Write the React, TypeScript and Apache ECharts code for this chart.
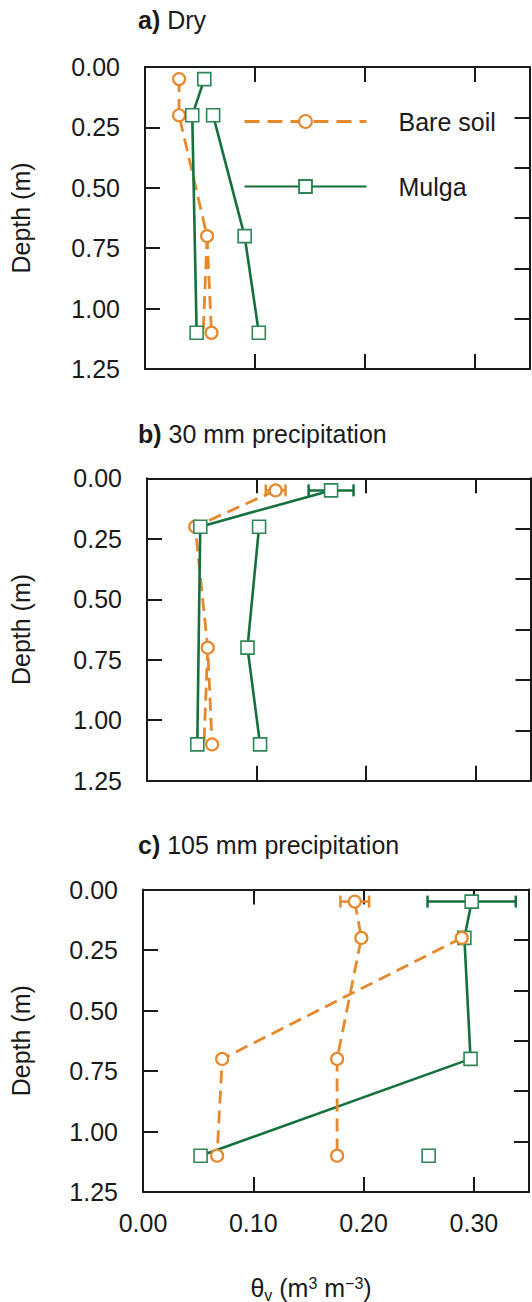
import React, { useEffect, useRef } from 'react';
import * as echarts from 'echarts';

// ---------- data ----------
const depths = [0.05, 0.2, 0.7, 1.1];
const xTickLabels = ['0.00', '0.10', '0.20', '0.30'];
const yTickLabels = ['0.00', '0.25', '0.50', '0.75', '1.00', '1.25'];
const panelLetters = ['a)', 'b)', 'c)'];
const panelNames = ['Dry', '30 mm precipitation', '105 mm precipitation'];

// Panel a (dry)
const bareA1 = [0.031, 0.031, 0.0565, 0.0605];
const bareA2 = [null, null, 0.0565, 0.053];
const mulgaA1 = [0.054, 0.043, null, 0.047];
const mulgaA2 = [null, 0.062, 0.0907, 0.1036];

// Panel b (30 mm)
const bareB1 = [0.1174, 0.044, 0.0554, 0.0594];
const bareB2 = [null, null, 0.0554, 0.052];
const mulgaB1 = [0.168, 0.0486, null, 0.0459];
const mulgaB2 = [null, 0.1023, 0.0917, 0.1032];
const bareBErr = 0.009;
const mulgaBErr = 0.0205;

// Panel c (105 mm)
const bareC1 = [0.192, 0.198, 0.176, 0.176];
const bareC2 = [null, 0.289, 0.0718, 0.0672];
const mulgaC1 = [0.298, 0.2914, 0.297, 0.0522];
const mulgaC2 = [null, null, null, 0.259];
const bareCErr = 0.013;
const mulgaCErr = 0.04;

// ---------- styling ----------
const FONT = '"Liberation Sans", Arial, Helvetica, sans-serif';
const ORANGE = '#E6882C';
const GREEN_LINE = '#15703E';
const GREEN_MARK = '#2E8555';
const INK = '#1a1a1a';

const grids = [
  { left: 145, top: 67, width: 384.5, height: 302 },
  { left: 147, top: 478.3, width: 383.5, height: 302.4 },
  { left: 143, top: 889.5, width: 386, height: 302.5 },
];

function pairs(vals: (number | null)[]) {
  const out: number[][] = [];
  depths.forEach((d, i) => {
    const v = vals[i];
    if (v !== null && v !== undefined) out.push([v, d]);
  });
  return out;
}

const axisLine = { show: true, onZero: false, lineStyle: { color: INK, width: 2 } };
const axisTick = { show: true, inside: true, length: 15, lineStyle: { color: INK, width: 2 } };

function bareSeries(p: number, vals: (number | null)[], showSym: boolean, z: number) {
  return {
    type: 'line',
    name: 'Bare soil',
    xAxisIndex: p * 2,
    yAxisIndex: p * 2,
    data: pairs(vals),
    showSymbol: showSym,
    symbol: 'circle',
    symbolSize: 12,
    z,
    lineStyle: { color: ORANGE, width: 2.8, type: [13, 7] },
    itemStyle: { color: '#fff', borderColor: ORANGE, borderWidth: 2.2 },
    emphasis: { disabled: true },
  };
}
function mulgaSeries(p: number, vals: (number | null)[], z: number) {
  return {
    type: 'line',
    name: 'Mulga',
    xAxisIndex: p * 2,
    yAxisIndex: p * 2,
    data: pairs(vals),
    showSymbol: true,
    symbol: 'rect',
    symbolSize: 13,
    z,
    lineStyle: { color: GREEN_LINE, width: 2.6, type: 'solid' },
    itemStyle: { color: '#fff', borderColor: GREEN_MARK, borderWidth: 1.6 },
    emphasis: { disabled: true },
  };
}
function errSeries(p: number, center: number, err: number, depth: number, color: string) {
  return {
    type: 'custom',
    name: 'err' + p + color,
    xAxisIndex: p * 2,
    yAxisIndex: p * 2,
    z: 1,
    data: [[center - err, center + err, depth]],
    encode: { x: [0, 1], y: 2 },
    renderItem: (_params: any, api: any) => {
      const lo = api.coord([api.value(0), api.value(2)]);
      const hi = api.coord([api.value(1), api.value(2)]);
      const h = 6;
      const st = { stroke: color, lineWidth: 2.5 };
      return {
        type: 'group',
        children: [
          { type: 'line', shape: { x1: lo[0], y1: lo[1], x2: hi[0], y2: hi[1] }, style: st },
          { type: 'line', shape: { x1: lo[0], y1: lo[1] - h, x2: lo[0], y2: lo[1] + h }, style: st },
          { type: 'line', shape: { x1: hi[0], y1: hi[1] - h, x2: hi[0], y2: hi[1] + h }, style: st },
        ],
      };
    },
  };
}

function buildOption() {
  const xAxis: any[] = [];
  const yAxis: any[] = [];
  grids.forEach((_g, p) => {
    xAxis.push({
      type: 'value', gridIndex: p, position: 'bottom', min: 0, max: 0.35, interval: 0.1,
      axisLine, axisTick, splitLine: { show: false },
      axisLabel: {
        show: p === 2, margin: 18, showMaxLabel: false, color: INK, fontSize: 25, fontFamily: FONT,
        formatter: (v: number) => xTickLabels[Math.round(v / 0.1)] ?? '',
      },
    });
    xAxis.push({
      type: 'value', gridIndex: p, position: 'top', min: 0, max: 0.35, interval: 0.1,
      axisLine, axisTick, splitLine: { show: false }, axisLabel: { show: false },
    });
    yAxis.push({
      type: 'value', gridIndex: p, position: 'left', inverse: true, min: 0, max: 1.25, interval: 0.25,
      axisLine, axisTick, splitLine: { show: false },
      axisLabel: {
        show: true, margin: 25, color: INK, fontSize: 25, fontFamily: FONT,
        formatter: (v: number) => yTickLabels[Math.round(v / 0.25)] ?? '',
      },
    });
    yAxis.push({
      type: 'value', gridIndex: p, position: 'right', inverse: true, min: 0, max: 1.5, interval: 0.25,
      axisLine, axisTick, splitLine: { show: false }, axisLabel: { show: false },
    });
  });

  const series: any[] = [
    // panel a
    bareSeries(0, bareA1, true, 2),
    bareSeries(0, bareA2, false, 2),
    mulgaSeries(0, mulgaA1, 3),
    mulgaSeries(0, mulgaA2, 3),
    // panel b
    errSeries(1, bareB1[0] as number, bareBErr, depths[0], ORANGE),
    errSeries(1, mulgaB1[0] as number, mulgaBErr, depths[0], GREEN_LINE),
    bareSeries(1, bareB1, true, 2),
    bareSeries(1, bareB2, false, 2),
    mulgaSeries(1, mulgaB1, 3),
    mulgaSeries(1, mulgaB2, 3),
    // panel c
    errSeries(2, bareC1[0] as number, bareCErr, depths[0], ORANGE),
    errSeries(2, mulgaC1[0] as number, mulgaCErr, depths[0], GREEN_LINE),
    mulgaSeries(2, mulgaC1, 2),
    mulgaSeries(2, mulgaC2, 2),
    bareSeries(2, bareC1, true, 3),
    bareSeries(2, bareC2, true, 3),
  ];

  const titleY = [22, 436, 847];
  const graphic: any[] = [];
  grids.forEach((g, p) => {
    graphic.push({
      type: 'text', left: 138, top: titleY[p] - 15,
      style: {
        text: `{b|${panelLetters[p]}} {n|${panelNames[p]}}`,
        rich: {
          b: { fontWeight: 'bold', fontSize: 25, fontFamily: FONT, fill: INK },
          n: { fontSize: 25, fontFamily: FONT, fill: INK },
        },
        fill: INK, fontSize: 25, fontFamily: FONT,
      },
    });
    graphic.push({
      type: 'text', x: 21, y: g.top + g.height / 2, rotation: Math.PI / 2,
      style: {
        text: 'Depth (m)', fill: INK, fontSize: 25, fontFamily: FONT,
        align: 'center', verticalAlign: 'middle',
      },
    });
  });
  graphic.push({
    type: 'text', x: 311, y: 1288,
    style: {
      text: '{n|θ}{s|v}{n| (m}{p|3}{n| m}{p|−3}{n|)}',
      align: 'center', verticalAlign: 'middle',
      fill: INK, fontSize: 25, fontFamily: FONT,
      rich: {
        n: { fontSize: 25, fontFamily: FONT, fill: INK, lineHeight: 30, verticalAlign: 'middle' },
        s: { fontSize: 16, fontFamily: FONT, fill: INK, lineHeight: 30, verticalAlign: 'bottom' },
        p: { fontSize: 16, fontFamily: FONT, fill: INK, lineHeight: 30, verticalAlign: 'top', padding: [2, 0, 0, 0] },
      },
    },
  });

  return {
    animation: false,
    backgroundColor: '#fff',
    textStyle: { fontFamily: FONT },
    grid: grids.map((g) => ({ ...g, containLabel: false, outerBoundsMode: 'none' })),
    xAxis,
    yAxis,
    legend: {
      data: [
        { name: 'Bare soil', lineStyle: { type: [15, 8], width: 3, color: ORANGE } },
        { name: 'Mulga' },
      ],
      orient: 'vertical',
      left: 243,
      top: 109,
      itemWidth: 122,
      itemHeight: 16,
      itemGap: 40,
      padding: 0,
      selectedMode: false,
      textStyle: { fontSize: 25, color: INK, fontFamily: FONT, padding: [0, 0, 0, 27] },
    },
    graphic,
    series,
  };
}

export default function App() {
  const ref = useRef<HTMLDivElement>(null);
  useEffect(() => {
    document.body.style.margin = '0';
    if (!ref.current) return;
    const chart = echarts.init(ref.current, null, { renderer: 'svg' });
    chart.setOption(buildOption() as any);
    return () => chart.dispose();
  }, []);
  return <div ref={ref} style={{ width: 532, height: 1302 }} />;
}
